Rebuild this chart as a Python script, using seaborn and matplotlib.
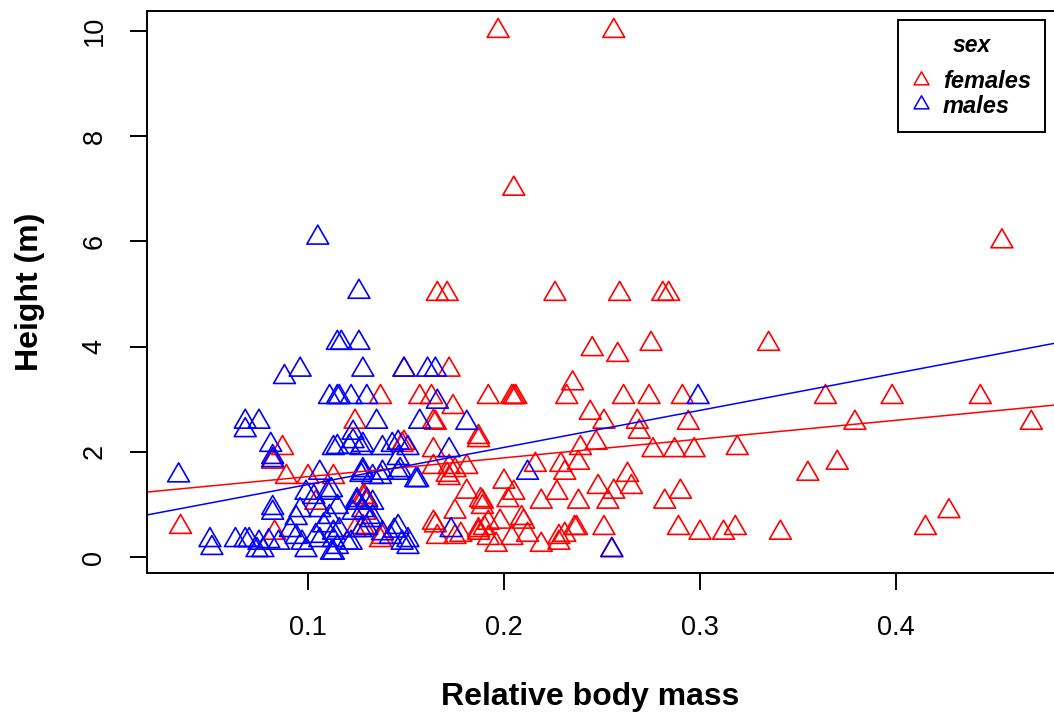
import matplotlib
matplotlib.use("Agg")
import matplotlib.pyplot as plt
from matplotlib.lines import Line2D
from matplotlib.path import Path
import numpy as np
import pandas as pd
import seaborn as sns

sns.set_theme(style="ticks")
plt.rcParams["font.family"] = ["Liberation Sans", "DejaVu Sans"]
plt.rcParams["text.color"] = "black"

# values
female_mass = [
    0.197, 0.256, 0.205, 0.454,
    0.166, 0.171, 0.226, 0.259, 0.281, 0.284,
    0.245, 0.258, 0.275, 0.335,
    0.235, 0.232, 0.149, 0.172,
    0.137, 0.157, 0.163, 0.192, 0.204, 0.205, 0.206, 0.261, 0.274, 0.291, 0.364, 0.398, 0.443,
    0.174, 0.244, 0.251, 0.268, 0.269, 0.294, 0.379, 0.469, 0.124, 0.164, 0.165,
    0.087, 0.148, 0.164, 0.187, 0.187, 0.239, 0.247, 0.276, 0.287, 0.297, 0.319, 0.149,
    0.082, 0.181, 0.164, 0.172, 0.238, 0.216, 0.229, 0.231, 0.370, 0.355, 0.172, 0.175, 0.171, 0.263,
    0.089, 0.100, 0.113, 0.200, 0.181, 0.248, 0.256, 0.265, 0.227, 0.205, 0.290,
    0.104, 0.129, 0.128, 0.130, 0.188, 0.202, 0.189, 0.189, 0.219, 0.238, 0.253, 0.282, 0.175, 0.129, 0.427,
    0.035, 0.083, 0.124, 0.128, 0.137, 0.138, 0.164, 0.166, 0.165, 0.175, 0.178, 0.187, 0.190,
    0.192, 0.198, 0.209, 0.210, 0.196, 0.204, 0.212, 0.219, 0.228, 0.231, 0.237, 0.251, 0.289,
    0.300, 0.312, 0.318, 0.341, 0.415, 0.255, 0.192, 0.187, 0.236, 0.228,
]
female_height = [
    10.0, 10.0, 7.0, 6.0,
    5.0, 5.0, 5.0, 5.0, 5.0, 5.0,
    3.95, 3.84, 4.05, 4.05,
    3.3, 3.04, 3.56, 3.56,
    3.04, 3.04, 3.04, 3.04, 3.04, 3.04, 3.04, 3.04, 3.04, 3.04, 3.04, 3.04, 3.04,
    2.85, 2.74, 2.57, 2.57, 2.38, 2.55, 2.55, 2.55, 2.57, 2.57, 2.55,
    2.07, 2.13, 2.03, 2.28, 2.22, 2.07, 2.17, 2.03, 2.03, 2.03, 2.07, 2.17,
    1.81, 1.71, 1.71, 1.71, 1.79, 1.75, 1.75, 1.6, 1.79, 1.58, 1.5, 1.65, 1.56, 1.56,
    1.52, 1.52, 1.52, 1.43, 1.24, 1.33, 1.24, 1.33, 1.22, 1.22, 1.24,
    1.03, 1.14, 1.14, 1.03, 1.08, 1.08, 1.05, 0.95, 1.05, 1.05, 1.05, 1.05, 0.86, 0.84, 0.87,
    0.57, 0.46, 0.51, 0.57, 0.32, 0.38, 0.65, 0.38, 0.6, 0.38, 0.42, 0.51, 0.55,
    0.65, 0.67, 0.74, 0.67, 0.23, 0.36, 0.42, 0.23, 0.27, 0.42, 0.55, 0.55, 0.55,
    0.46, 0.46, 0.55, 0.46, 0.55, 0.13, 0.36, 0.46, 0.55, 0.38,
]

male_mass = [
    0.105, 0.126, 0.115, 0.117, 0.126, 0.088, 0.096, 0.128, 0.149, 0.161, 0.165,
    0.111, 0.115, 0.122, 0.130, 0.166, 0.299, 0.116,
    0.068, 0.075, 0.068, 0.135, 0.157, 0.181, 0.123,
    0.081, 0.113, 0.123, 0.127, 0.138, 0.146, 0.151, 0.115, 0.121, 0.128, 0.143, 0.172, 0.146, 0.082, 0.082,
    0.034, 0.106, 0.127, 0.133, 0.137, 0.146, 0.155, 0.128, 0.138, 0.147, 0.156, 0.212, 0.128,
    0.099, 0.103, 0.110, 0.125, 0.133, 0.112, 0.130, 0.125, 0.115,
    0.082, 0.096, 0.106, 0.111, 0.123, 0.133, 0.094, 0.082, 0.132, 0.128,
    0.050, 0.051, 0.063, 0.070, 0.074, 0.075, 0.077, 0.085, 0.091, 0.094, 0.097, 0.099,
    0.106, 0.112, 0.113, 0.116, 0.122, 0.127, 0.130, 0.142, 0.146, 0.151, 0.148, 0.151,
    0.113, 0.115, 0.120, 0.113, 0.173, 0.255, 0.068, 0.080, 0.104, 0.108, 0.138, 0.144,
]
male_height = [
    6.07, 5.04, 4.07, 4.07, 4.07, 3.42, 3.56, 3.56, 3.56, 3.56, 3.56,
    3.04, 3.04, 3.04, 3.04, 2.95, 3.04, 3.04,
    2.57, 2.57, 2.41, 2.57, 2.57, 2.55, 2.36,
    2.13, 2.07, 2.2, 2.07, 2.07, 2.17, 2.07, 2.09, 2.09, 2.13, 2.13, 2.03, 1.88, 1.84, 1.9,
    1.55, 1.6, 1.56, 1.52, 1.52, 1.6, 1.46, 1.65, 1.6, 1.65, 1.46, 1.6, 1.6,
    1.22, 1.14, 1.22, 1.03, 1.03, 1.27, 1.08, 1.08, 0.95,
    0.84, 0.89, 0.89, 0.76, 0.84, 0.76, 0.74, 0.93, 0.7, 0.89,
    0.32, 0.17, 0.32, 0.32, 0.13, 0.27, 0.13, 0.27, 0.51, 0.38, 0.27, 0.13,
    0.32, 0.08, 0.32, 0.51, 0.27, 0.51, 0.55, 0.38, 0.57, 0.19, 0.27, 0.32,
    0.46, 0.19, 0.27, 0.08, 0.51, 0.13, 0.32, 0.3, 0.4, 0.6, 0.45, 0.5,
]

# fitted lines (intercept, slope) as drawn in the reference
fit_female = (1.172, 3.57)
fit_male = (0.674, 7.05)

sex_labels = ["females", "males"]
sex_colors = {"females": "red", "males": "blue"}
x_ticks = [0.1, 0.2, 0.3, 0.4]
y_ticks = [0, 2, 4, 6, 8, 10]

df = pd.DataFrame({
    "mass": female_mass + male_mass,
    "height": female_height + male_height,
    "sex": ["females"] * len(female_mass) + ["males"] * len(male_mass),
})

# R-style open triangle (pch = 2)
tri = Path([(-0.866, -0.5), (0.866, -0.5), (0.0, 1.0), (-0.866, -0.5)],
           [Path.MOVETO, Path.LINETO, Path.LINETO, Path.CLOSEPOLY])

fig = plt.figure(figsize=(10.54, 7.18), dpi=100)
ax = fig.add_axes([0.1395, 0.2019, 0.8624, 0.7827])

sns.scatterplot(data=df, x="mass", y="height", hue="sex", palette=sex_colors,
                marker=tri, s=330, legend=False, ax=ax)
pts = ax.collections[0]
pts.set_edgecolors(pts.get_facecolors())
pts.set_facecolors("none")
pts.set_linewidths(1.2)

ax.axline((0, fit_female[0]), slope=fit_female[1], color="red", lw=1.1)
ax.axline((0, fit_male[0]), slope=fit_male[1], color="blue", lw=1.1)

ax.set_xlim(0.0179, 0.4816)
ax.set_ylim(-0.304, 10.38)
ax.set_xticks(x_ticks)
ax.set_xticklabels([f"{v:g}" for v in x_ticks])
ax.set_yticks(y_ticks)
ax.set_yticklabels([str(v) for v in y_ticks], rotation=90, va="center")

ax.tick_params(axis="both", direction="out", length=12, width=1.4,
               color="black", labelcolor="black", labelsize=19.5)
ax.tick_params(axis="x", pad=18)
ax.tick_params(axis="y", pad=16.5)
for sp in ax.spines.values():
    sp.set_color("black")
    sp.set_linewidth(1.4)

ax.set_xlabel("Relative body mass", fontsize=23, fontweight="bold",
              va="center", color="black")
ax.set_ylabel("Height (m)", fontsize=23, fontweight="bold",
              va="center", color="black")
ax.xaxis.set_label_coords(0.487, -0.2206)
ax.yaxis.set_label_coords(-0.129, 0.5)

handles = [Line2D([], [], linestyle="none", marker=tri, markersize=12.5,
                  markerfacecolor="none", markeredgecolor=sex_colors[s],
                  markeredgewidth=1.1, label=s) for s in sex_labels]
leg = ax.legend(handles=handles, title="sex", loc="upper right",
                bbox_to_anchor=(1045 / 1054, 1 - 20 / 718),
                bbox_transform=fig.transFigure, borderaxespad=0,
                prop={"size": 17, "weight": "bold", "style": "italic"},
                title_fontproperties={"size": 16.5, "weight": "bold", "style": "italic"},
                fancybox=False, framealpha=1, edgecolor="black",
                handlelength=0.7, handletextpad=0.58, labelspacing=0.05,
                borderpad=0.6)
leg.get_frame().set_linewidth(1.4)
# wider gap between the title and the entries, as in the R legend
leg._legend_box.sep = 9.5

fig.savefig("out.png", dpi=100)
